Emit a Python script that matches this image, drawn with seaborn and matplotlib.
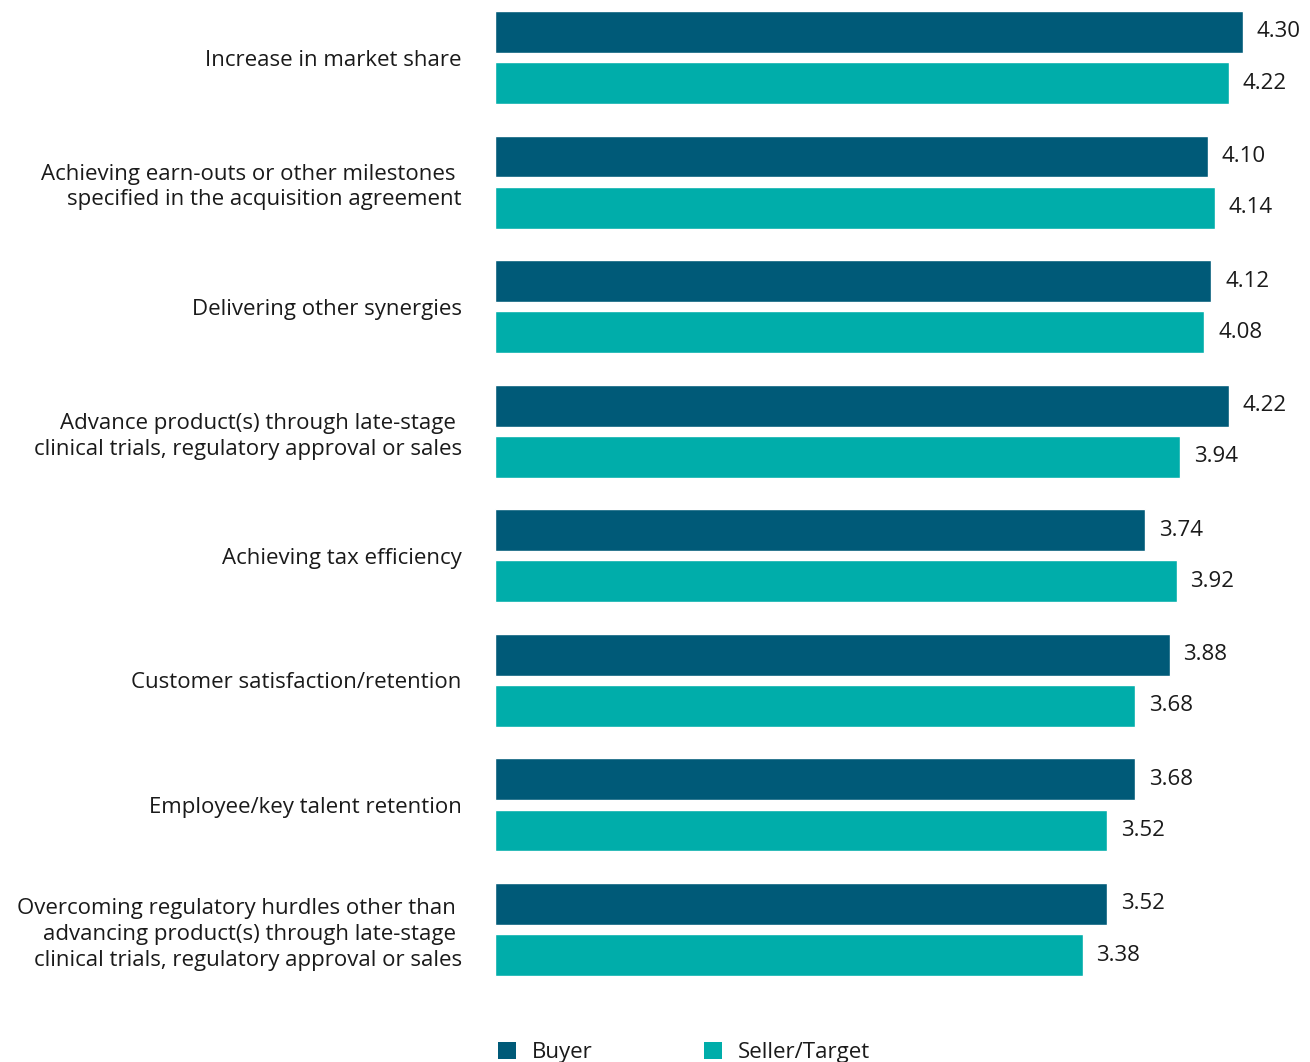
import matplotlib
matplotlib.use("Agg")
import matplotlib.pyplot as plt
import seaborn as sns
import pandas as pd
from matplotlib.patches import Patch

categories = [
    "Increase in market share",
    "Achieving earn-outs or other milestones \nspecified in the acquisition agreement",
    "Delivering other synergies",
    "Advance product(s) through late-stage \nclinical trials, regulatory approval or sales",
    "Achieving tax efficiency",
    "Customer satisfaction/retention",
    "Employee/key talent retention",
    "Overcoming regulatory hurdles other than \nadvancing product(s) through late-stage \nclinical trials, regulatory approval or sales",
]
buyer = [4.30, 4.10, 4.12, 4.22, 3.74, 3.88, 3.68, 3.52]
seller = [4.22, 4.14, 4.08, 3.94, 3.92, 3.68, 3.52, 3.38]
series = ["Buyer", "Seller/Target"]
colors = ["#005A78", "#00ADAA"]

df = pd.DataFrame({
    "Category": categories * 2,
    "Score": buyer + seller,
    "Respondent": [series[0]] * len(categories) + [series[1]] * len(categories),
})

sns.set_theme(style="white")
plt.rcParams["font.family"] = ["Open Sans", "DejaVu Sans"]
text_color = "#1a1a1a"
fs = 16

W, H = 1310, 1062
fig = plt.figure(figsize=(W / 100, H / 100), dpi=100)
ax = fig.add_axes([495 / W, 1 - 1000 / H, 805 / W, 1000 / H])

sns.barplot(data=df, y="Category", x="Score", hue="Respondent", orient="h",
            palette=colors, width=0.82, gap=0.18, saturation=1,
            legend=False, ax=ax)

ax.set_xlim(0, 4.63)
ax.set_ylim(7.566, -0.4616)
for c in ax.containers:
    ax.bar_label(c, fmt="%.2f", padding=10, fontsize=fs, color=text_color)

ax.set_xlabel("")
ax.set_ylabel("")
ax.set_xticks([])
ax.tick_params(axis="y", length=0, pad=24, labelsize=fs, labelcolor=text_color)
for lab in ax.get_yticklabels():
    lab.set_horizontalalignment("right")
    lab.set_multialignment("right")
    lab.set_linespacing(1.3)
sns.despine(ax=ax, left=True, bottom=True)

handles = [Patch(facecolor=c, edgecolor="none") for c in colors]
fig.legend(handles, series, loc="lower left", ncol=2,
           bbox_to_anchor=(478 / W, -21 / H), frameon=False,
           fontsize=fs, labelcolor=text_color, handlelength=0.82,
           handleheight=0.82, handletextpad=0.7, columnspacing=5.0)

fig.savefig("out.png", dpi=100)
